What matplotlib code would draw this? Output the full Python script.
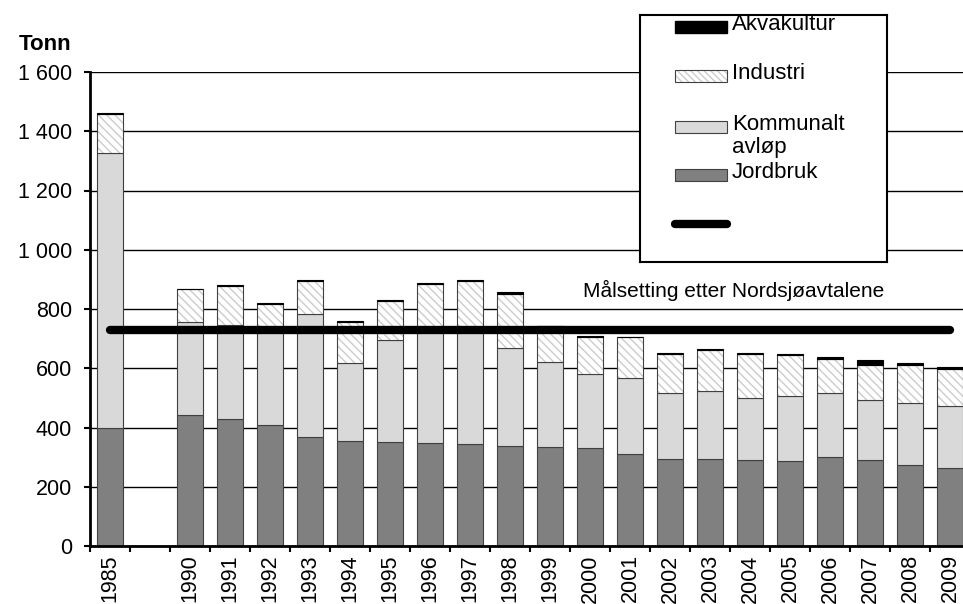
import numpy as np
import matplotlib
matplotlib.use('Agg')
import matplotlib.pyplot as plt
from matplotlib.patches import Rectangle
from matplotlib.lines import Line2D

plt.rcParams['font.family'] = ['Liberation Sans', 'DejaVu Sans']

categories = ['1985', '', '1990', '1991', '1992', '1993', '1994', '1995', '1996',
              '1997', '1998', '1999', '2000', '2001', '2002', '2003', '2004',
              '2005', '2006', '2007', '2008', '2009']

jordbruk = [398, None, 441, 429, 408, 368, 354, 350, 347, 343, 338, 334, 330,
            310, 293, 295, 289, 288, 299, 290, 274, 264]
kommunalt = [927, None, 314, 316, 324, 414, 263, 344, 391, 395, 329, 287, 250,
             258, 222, 227, 209, 217, 216, 203, 209, 209]
industri = [134, None, 111, 133, 86, 114, 138, 133, 148, 155, 183, 120, 124,
            137, 133, 140, 149, 139, 117, 118, 127, 126]
akvakultur = [3, None, 3, 3, 3, 3, 3, 3, 3, 5, 8, 3, 5,
              2, 3, 3, 4, 4, 5, 17, 7, 4]

maal = 730
maal_tekst = 'Målsetting etter Nordsjøavtalene'

serie_navn = ['Akvakultur', 'Industri', 'Kommunalt\navløp', 'Jordbruk']

jord = np.array(jordbruk, dtype=float)
komm = np.array(kommunalt, dtype=float)
ind = np.array(industri, dtype=float)
akva = np.array(akvakultur, dtype=float)
x = np.arange(len(categories))
ok = ~np.isnan(jord)

fig = plt.figure(figsize=(9.63, 6.04), dpi=100)
W, H = 963, 604
ax = fig.add_axes([90 / W, (H - 546) / H, 880 / W, 474 / H])

edge = '#404040'
bw = 0.67
ax.bar(x[ok], jord[ok], bw, color='#808080', edgecolor=edge, lw=0.8, zorder=3)
ax.bar(x[ok], komm[ok], bw, bottom=jord[ok], color='#d9d9d9', edgecolor=edge,
       lw=0.8, zorder=3)
b2 = (jord + komm)[ok]
ax.bar(x[ok], ind[ok], bw, bottom=b2, color='white', edgecolor='#cccccc',
       hatch='\\\\\\\\', lw=0, zorder=3)
ax.bar(x[ok], ind[ok], bw, bottom=b2, fill=False, edgecolor=edge, lw=0.8,
       zorder=3)
ax.bar(x[ok], akva[ok], bw, bottom=b2 + ind[ok], color='black',
       edgecolor='black', lw=0.8, zorder=3)

ax.plot([x[0], x[-1]], [maal, maal], color='black', lw=6,
        solid_capstyle='round', zorder=4)
ax.text(15.6, maal + 131, maal_tekst, ha='center', va='center',
        fontsize=15, zorder=5)

ax.set_xlim(-0.5, len(categories) - 0.5)
ax.set_ylim(0, 1600)
ax.set_yticks(np.arange(0, 1601, 200))
ax.set_yticklabels([f'{v:,}'.replace(',', ' ') for v in range(0, 1601, 200)])
ax.yaxis.grid(True, color='black', lw=1, zorder=0)
ax.set_axisbelow(True)

ax.set_xticks(x)
ax.set_xticklabels(categories, rotation=90)
ax.set_xticks(np.arange(len(categories) + 1) - 0.5, minor=True)
ax.tick_params(axis='x', which='major', length=0, pad=6, labelsize=15.5)
ax.tick_params(axis='x', which='minor', length=4, width=1.5, direction='out')
ax.tick_params(axis='y', length=4, width=1.5, labelsize=15.5, pad=9)
for s in ['top', 'right']:
    ax.spines[s].set_visible(False)
for s in ['left', 'bottom']:
    ax.spines[s].set_linewidth(2)
    ax.spines[s].set_zorder(6)

fig.text(19 / W, 1 - 45 / H, 'Tonn', fontsize=16, fontweight='bold',
         ha='left', va='center')

# legend drawn by hand, Excel style
lax = fig.add_axes([640 / W, (H - 262) / H, 247 / W, 247 / H], zorder=10)
lax.set_xlim(0, 247)
lax.set_ylim(247, 0)
lax.set_xticks([])
lax.set_yticks([])
for s in lax.spines.values():
    s.set_linewidth(1.5)
rows = [12, 61, 112, 160]
styles = [dict(color='black'),
          dict(facecolor='white', edgecolor='#cccccc', hatch='\\\\\\\\\\', lw=0),
          dict(facecolor='#d9d9d9', edgecolor=edge, lw=0.8),
          dict(facecolor='#808080', edgecolor=edge, lw=0.8)]
for yc, navn, st in zip(rows, serie_navn, styles):
    lax.add_patch(Rectangle((35, yc - 6), 52, 12, **st))
    if 'hatch' in st:
        lax.add_patch(Rectangle((35, yc - 6), 52, 12, fill=False,
                                edgecolor=edge, lw=0.8))
    lax.text(92, yc - 13, navn, fontsize=16, va='top', ha='left',
             linespacing=1.15)
lax.add_line(Line2D([35, 87], [209, 209], color='black', lw=6,
                    solid_capstyle='round'))

fig.savefig('out.png', dpi=100)
